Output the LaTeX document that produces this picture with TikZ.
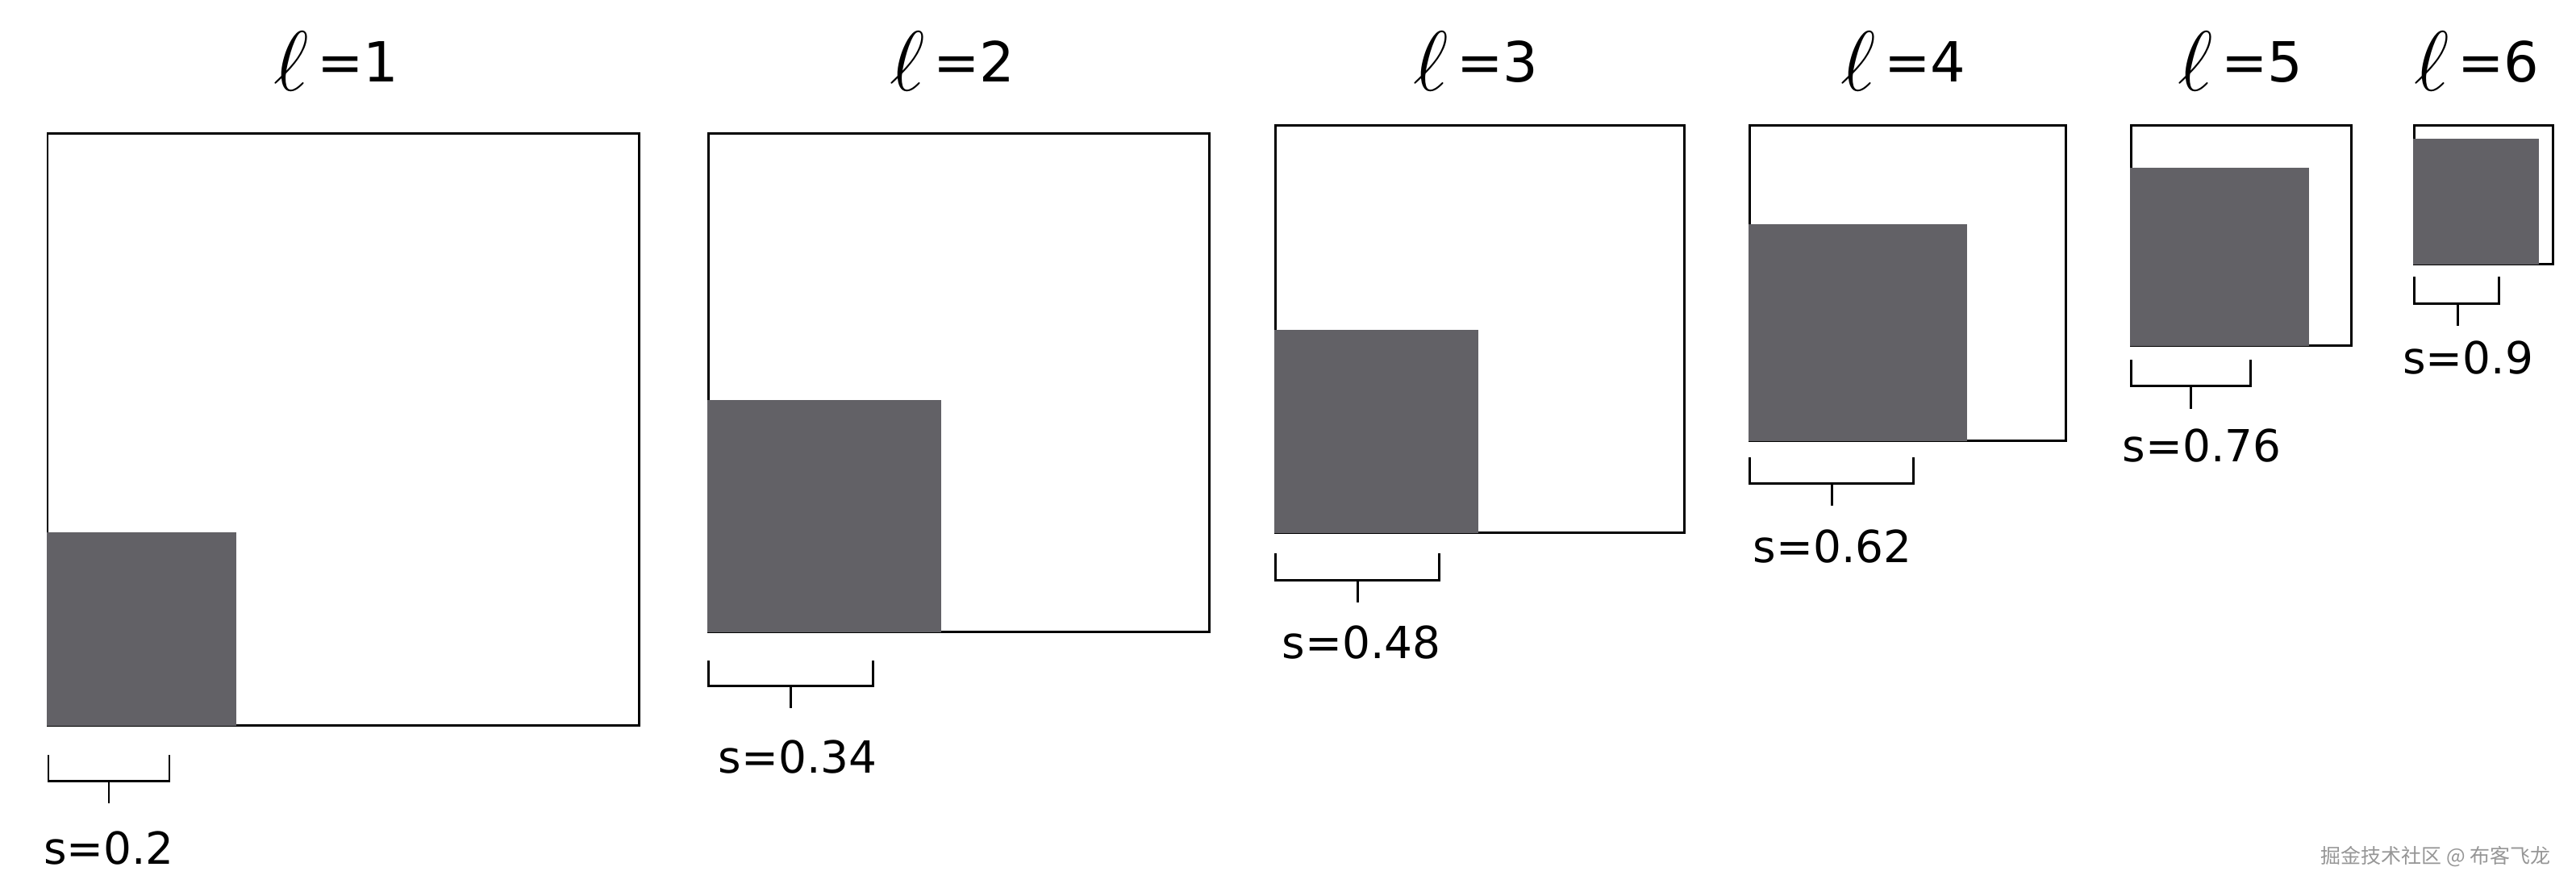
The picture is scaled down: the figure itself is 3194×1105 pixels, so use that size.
\RequirePackage{fix-cm}
\documentclass[tikz,border=0pt]{standalone}
\usepackage{fontspec}
\setmainfont{DejaVu Sans}
\newfontfamily\cjkfont{Noto Sans CJK SC}
\usepackage{xcolor}
\usepackage{tikz}
\definecolor{blockgray}{RGB}{98, 97, 102}
\definecolor{markgray}{RGB}{150, 150, 150}

\newcommand{\levelname}[1]{{\fontsize{30}{30}\selectfont\raisebox{-3.4pt}{$\ell$}}\hspace{3pt}=#1}

\begin{document}
\begin{tikzpicture}[x=0.01cm, y=-0.01cm,
    frame/.style={draw=black, line width=0.85pt},
    block/.style={fill=blockgray},
    brace/.style={draw=black, line width=0.85pt},
    level/.style={font=\fontsize{19.5}{20}\selectfont, anchor=base, inner sep=0pt},
    sizelabel/.style={font=\fontsize{15.6}{16}\selectfont, anchor=base, inner sep=0pt}]
        \useasboundingbox (0,0) rectangle (3194,1105);
        % level titles
        \node[level] (l1) at (417,101)  {\levelname{1}};
        \node[level] (l2) at (1181,101) {\levelname{2}};
        \node[level] (l3) at (1830,101) {\levelname{3}};
        \node[level] (l4) at (2360,101) {\levelname{4}};
        \node[level] (l5) at (2778,101) {\levelname{5}};
        \node[level] (l6) at (3071,101) {\levelname{6}};
        % frames, then the dark blocks over them
        \draw[frame] (59,165) rectangle (792,899);
        \fill[block] (58,660) rectangle (293,900);
        \draw[frame] (878,165) rectangle (1499,783);
        \fill[block] (877,496) rectangle (1167,784);
        \draw[frame] (1581,155) rectangle (2088,660);
        \fill[block] (1580,409) rectangle (1833,661);
        \draw[frame] (2169,155) rectangle (2561,546);
        \fill[block] (2168,278) rectangle (2439,547);
        \draw[frame] (2642,155) rectangle (2915,428);
        \fill[block] (2641,208) rectangle (2863,429);
        \draw[frame] (2993,155) rectangle (3165,327);
        \fill[block] (2992,172) rectangle (3148,328);
        % brackets for s
        \draw[brace] (60,936) -- (60,968) -- (210,968) -- (210,936) (135,968) -- (135,996);
        \draw[brace] (878,819) -- (878,850) -- (1082,850) -- (1082,819) (980,850) -- (980,878);
        \draw[brace] (1581,686) -- (1581,719) -- (1784,719) -- (1784,686) (1683,719) -- (1683,747);
        \draw[brace] (2169,567) -- (2169,599) -- (2372,599) -- (2372,567) (2271,599) -- (2271,627);
        \draw[brace] (2642,446) -- (2642,478) -- (2790,478) -- (2790,446) (2716,478) -- (2716,507);
        \draw[brace] (2993,343) -- (2993,376) -- (3098,376) -- (3098,343) (3047,376) -- (3047,404);
        % size labels
        \node[sizelabel] (s1) at (135,1071) {s=0.2};
        \node[sizelabel] (s2) at (989,958)  {s=0.34};
        \node[sizelabel] (s3) at (1688,816) {s=0.48};
        \node[sizelabel] (s4) at (2272,697) {s=0.62};
        \node[sizelabel] (s5) at (2730,572) {s=0.76};
        \node[sizelabel] (s6) at (3060,463) {s=0.9};
        \node[text=markgray, font=\cjkfont\fontsize{7.1}{8}\selectfont, anchor=base east, inner sep=0pt] (mark) at (3163,1070) {掘金技术社区 @ 布客飞龙};
      \end{tikzpicture}
\end{document}
